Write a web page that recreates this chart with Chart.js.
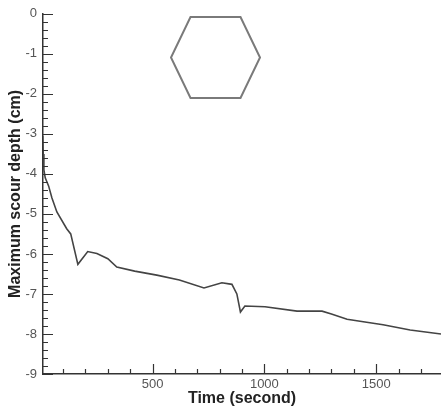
<!DOCTYPE html>
<html>
<head>
<meta charset="utf-8">
<script src="https://cdn.jsdelivr.net/npm/chart.js@4.4.1/dist/chart.umd.min.js"></script>
<style>
	html, body { margin: 0; padding: 0; background: #fff; }
	#wrap { width: 441px; height: 412px; }
</style>
</head>
<body>
<div id="wrap"><canvas id="chartScour"></canvas></div>
<script>
// ---- Data ----
const timeSec = [9, 11, 14, 20, 35, 50, 72, 116, 134, 166, 210, 251, 300, 340, 420, 519, 620, 730, 810, 855, 877, 893, 913, 1003, 1146, 1258, 1300, 1370, 1450, 1531, 1652, 1790];
const scourDepth = [-3.05, -3.5, -3.9, -4.1, -4.3, -4.6, -4.95, -5.37, -5.5, -6.26, -5.94, -5.99, -6.12, -6.33, -6.43, -6.53, -6.65, -6.85, -6.72, -6.76, -7.0, -7.45, -7.3, -7.32, -7.43, -7.43, -7.5, -7.63, -7.7, -7.77, -7.9, -8.0];
const xTickLabels = [500, 1000, 1500];
const yTickLabels = [-9, -8, -7, -6, -5, -4, -3, -2, -1, 0];

const X_MIN = 10;
const X_MAX = 1790;

// ---- Helpers ----
const $ = (sel) => document.querySelector(sel);

// ticks pointing into the plot (major + minor), like the original figure
const inwardTicks = {
	id: "inwardTicks",
	afterDraw(chart) {
		const { ctx, chartArea, scales } = chart;
		const x = scales.x, y = scales.y;
		ctx.save();
		ctx.strokeStyle = "#333";
		ctx.lineWidth = 1.2;
		ctx.beginPath();
		for (let i = -45; i <= 0; i++) {
			const v = i / 5;
			const py = Math.round(y.getPixelForValue(v)) + 0.5;
			const len = i % 5 === 0 ? 10 : 5;
			ctx.moveTo(chartArea.left, py);
			ctx.lineTo(chartArea.left + len, py);
		}
		for (let v = 100; v <= X_MAX; v += 100) {
			const px = Math.round(x.getPixelForValue(v)) + 0.5;
			const len = v % 500 === 0 ? 10 : 5;
			ctx.moveTo(px, chartArea.bottom);
			ctx.lineTo(px, chartArea.bottom - len);
		}
		ctx.stroke();
		ctx.restore();
	},
};

// hexagon pier sketch in the upper part of the plot
const hexSketch = {
	id: "hexSketch",
	afterDraw(chart) {
		const { ctx } = chart;
		const cx = 215.5, cy = 57.5, rx = 44.5, ry = 40.5, half = 25;
		ctx.save();
		ctx.strokeStyle = "#7a7a7a";
		ctx.lineWidth = 2;
		ctx.beginPath();
		ctx.moveTo(cx - half, cy - ry);
		ctx.lineTo(cx + half, cy - ry);
		ctx.lineTo(cx + rx, cy);
		ctx.lineTo(cx + half, cy + ry);
		ctx.lineTo(cx - half, cy + ry);
		ctx.lineTo(cx - rx, cy);
		ctx.closePath();
		ctx.stroke();
		ctx.restore();
	},
};

const points = timeSec.map((t, i) => ({ x: t, y: scourDepth[i] }));

new Chart($("#chartScour"), {
	type: "line",
	data: {
		datasets: [
			{
				data: points,
				borderColor: "#444",
				borderWidth: 1.6,
				pointRadius: 0,
				tension: 0,
				fill: false,
			},
		],
	},
	options: {
		responsive: true,
		maintainAspectRatio: false,
		animation: false,
		layout: { padding: { top: 10, right: 0, left: 0, bottom: 0 } },
		plugins: { legend: { display: false }, tooltip: { enabled: false } },
		scales: {
			x: {
				type: "linear",
				min: X_MIN,
				max: X_MAX,
				afterBuildTicks: (s) => {
					s.ticks = xTickLabels.map((v) => ({ value: v }));
				},
				afterFit: (s) => {
					s.height = 38;
				},
				grid: { drawOnChartArea: false, drawTicks: false },
				border: { display: true, color: "#333", width: 1.5 },
				ticks: {
					color: "#555",
					padding: 3,
					maxRotation: 0,
					callback: (v) => String(v),
					font: { family: "Liberation Sans, Arial, sans-serif", size: 13 },
				},
				title: {
					display: true,
					text: "Time (second)",
					color: "#222",
					padding: { top: 0, bottom: 4 },
					font: { family: "Liberation Sans, Arial, sans-serif", size: 16, weight: "bold" },
				},
			},
			y: {
				min: -9,
				max: 0,
				afterBuildTicks: (s) => {
					s.ticks = yTickLabels.map((v) => ({ value: v }));
				},
				afterFit: (s) => {
					s.width = 43;
				},
				grid: { drawOnChartArea: false, drawTicks: false },
				border: { display: true, color: "#333", width: 1.5 },
				ticks: {
					color: "#555",
					padding: 6,
					callback: (v) => String(v),
					font: { family: "Liberation Sans, Arial, sans-serif", size: 13 },
				},
				title: {
					display: true,
					text: "Maximum scour depth (cm)",
					color: "#222",
					padding: { top: 6, bottom: 0 },
					font: { family: "Liberation Sans, Arial, sans-serif", size: 16, weight: "bold" },
				},
			},
		},
	},
	plugins: [inwardTicks, hexSketch],
});
</script>
</body>
</html>
